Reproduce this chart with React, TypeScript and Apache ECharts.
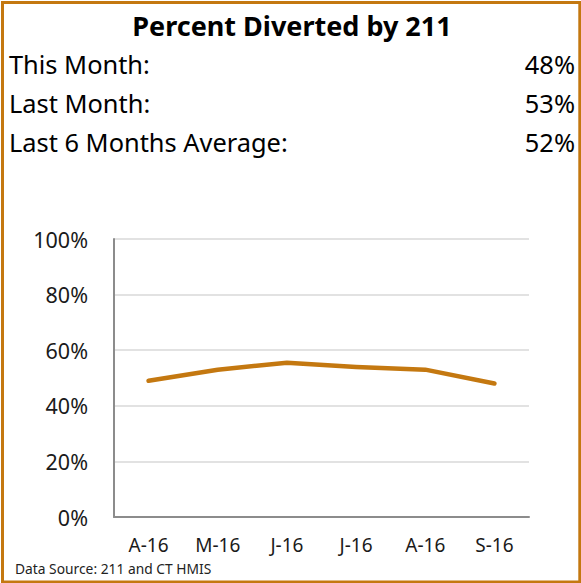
import React, { useEffect, useRef } from "react";
import * as echarts from "echarts";

const categories = ["A-16", "M-16", "J-16", "J-16", "A-16", "S-16"];
const percentDiverted = [0.49, 0.53, 0.555, 0.54, 0.53, 0.48];
const yTicks = [0, 0.2, 0.4, 0.6, 0.8, 1.0];
const statLabels = ["This Month:", "Last Month:", "Last 6 Months Average:"];
const statValues = ["48%", "53%", "52%"];
const titleText = "Percent Diverted by 211";
const sourceText = "Data Source: 211 and CT HMIS";

const FONT = "'Noto Sans', 'Open Sans', sans-serif";
const ORANGE = "#C47810";

export default function App() {
  const ref = useRef<HTMLDivElement>(null);
  useEffect(() => {
    if (!ref.current) return;
    const chart = echarts.init(ref.current, undefined, { renderer: "svg" });
    const statY = [64, 103, 142];
    const graphics: any[] = [
      {
        type: "rect",
        shape: { x: 2.5, y: 2.5, width: 577.3, height: 579.5 },
        style: { fill: "none", stroke: ORANGE, lineWidth: 3 },
        z: 10,
      },
      {
        type: "text",
        x: 292,
        y: 25,
        style: {
          text: titleText,
          font: `bold 27px ${FONT}`,
          fill: "#000",
          align: "center",
          verticalAlign: "middle",
        },
      },
      {
        type: "text",
        x: 15,
        y: 568,
        style: {
          text: sourceText,
          font: `13.8px ${FONT}`,
          fill: "#222",
          align: "left",
          verticalAlign: "middle",
        },
      },
    ];
    statLabels.forEach((s, i) => {
      graphics.push({
        type: "text",
        x: 9,
        y: statY[i],
        style: {
          text: s,
          font: `25.4px ${FONT}`,
          fill: "#000",
          align: "left",
          verticalAlign: "middle",
        },
      });
      graphics.push({
        type: "text",
        x: 575,
        y: statY[i],
        style: {
          text: statValues[i],
          font: `25.4px ${FONT}`,
          fill: "#000",
          align: "right",
          verticalAlign: "middle",
        },
      });
    });

    chart.setOption({
      animation: false,
      backgroundColor: "#fff",
      grid: { left: 114, right: 52, top: 239, bottom: 66, containLabel: false },
      xAxis: {
        type: "category",
        data: categories,
        boundaryGap: true,
        axisLine: { show: true, lineStyle: { color: "#8c8c8c", width: 2 } },
        axisTick: { show: false },
        axisLabel: {
          margin: 18,
          fontSize: 19,
          fontFamily: FONT,
          color: "#1a1a1a",
        },
      },
      yAxis: {
        type: "value",
        min: yTicks[0],
        max: yTicks[yTicks.length - 1],
        interval: 0.2,
        axisLine: { show: true, lineStyle: { color: "#8c8c8c", width: 2 } },
        axisTick: { show: false },
        splitLine: { show: true, lineStyle: { color: "#d9d9d9", width: 1.5 } },
        axisLabel: {
          margin: 26,
          fontSize: 21.5,
          fontFamily: FONT,
          color: "#1a1a1a",
          formatter: (v: number) => `${Math.round(v * 100)}%`,
        },
      },
      series: [
        {
          type: "line",
          data: percentDiverted,
          symbol: "none",
          lineStyle: { color: ORANGE, width: 4.5, cap: "round", join: "round" },
        },
      ],
      graphic: graphics,
    });
    return () => chart.dispose();
  }, []);
  return (
    <div
      ref={ref}
      style={{ position: "fixed", left: 0, top: 0, width: 581, height: 583 }}
    />
  );
}
